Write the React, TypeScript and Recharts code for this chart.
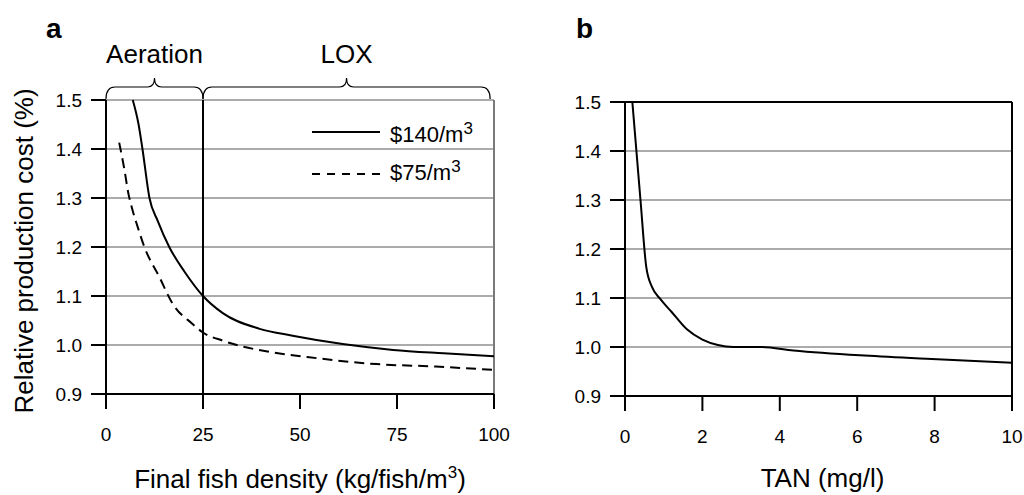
import React from "react";
import {
  LineChart,
  Line,
  XAxis,
  YAxis,
  CartesianGrid,
  ReferenceLine,
  ReferenceArea,
  Legend,
} from "recharts";

const FONT = '"Liberation Sans", Arial, Helvetica, sans-serif';

// panel a: cost vs final fish density, two oxygen prices
const densityHigh = [6.9, 8.4, 9.4, 11.2, 13.3, 16.3, 20.2, 25, 30.1, 39.6, 48.1, 61, 74, 87, 100];
const costHigh = [1.5, 1.45, 1.4, 1.3, 1.254, 1.2, 1.15, 1.1, 1.065, 1.033, 1.019, 1.002, 0.99, 0.983, 0.977];

const densityLow = [3.4, 4.7, 5.8, 6.4, 8.2, 9.9, 13.8, 17.2, 22.3, 24.9, 30, 35.2, 43, 52.4, 69.7, 85, 100];
const costLow = [1.413, 1.36, 1.308, 1.288, 1.24, 1.2, 1.138, 1.084, 1.043, 1.026, 1.009, 0.997, 0.985, 0.975, 0.961, 0.956, 0.949];

// panel b: cost vs TAN
const tanValues = [0.19, 0.4, 0.55, 0.7, 0.91, 1.2, 1.6, 2.0, 2.4, 2.8, 3.49, 4.35, 6.07, 7.79, 10];
const tanCost = [1.5, 1.3, 1.163, 1.122, 1.098, 1.072, 1.036, 1.015, 1.004, 1.0, 1.0, 0.993, 0.983, 0.976, 0.968];

const densityTicks = [0, 25, 50, 75, 100];
const tanTicks = [0, 2, 4, 6, 8, 10];
const costTicks = [0.9, 1.0, 1.1, 1.2, 1.3, 1.4, 1.5];

const highData = densityHigh.map((d, i) => ({ density: d, cost: costHigh[i] }));
const lowData = densityLow.map((d, i) => ({ density: d, cost: costLow[i] }));
const tanData = tanValues.map((t, i) => ({ tan: t, cost: tanCost[i] }));

const GRID = "#ababab";
const TICK_LEN = 15;
const TICK_GAP = 19;
const Y_GAP = 9;

// tick mark + label drawn together
const XTick = (props: any) => {
  const { x, y, payload } = props;
  const axisY = y - TICK_LEN - TICK_GAP;
  return (
    <g>
      <line x1={x} x2={x} y1={axisY} y2={axisY + TICK_LEN} stroke="#000" strokeWidth={2} />
      <text x={x} y={y + 13} textAnchor="middle" fontSize={19} fill="#000">
        {payload.value}
      </text>
    </g>
  );
};

const YTick = (props: any) => {
  const { x, y, payload } = props;
  const axisX = x + TICK_LEN + Y_GAP;
  return (
    <g>
      <line x1={axisX - TICK_LEN} x2={axisX} y1={y} y2={y} stroke="#000" strokeWidth={2} />
      <text x={x} y={y + 7} textAnchor="end" fontSize={19} fill="#000">
        {Number(payload.value).toFixed(1)}
      </text>
    </g>
  );
};

const Brace = (props: any) => {
  const { x, y, width } = props;
  const y0 = y - 1;
  const yh = y - 13;
  const peak = y - 22;
  const mid = x + width / 2;
  const d = `M${x},${y0} Q${x},${yh} ${x + 9},${yh} L${mid - 7},${yh} Q${mid},${yh} ${mid},${peak} Q${mid},${yh} ${mid + 7},${yh} L${x + width - 9},${yh} Q${x + width},${yh} ${x + width},${y0}`;
  return <path d={d} fill="none" stroke="#000" strokeWidth={1.2} />;
};

const yTitle = (props: any) => {
  const { viewBox } = props;
  const x = viewBox.x + 33;
  const y = viewBox.y + viewBox.height / 2 + 4;
  return (
    <text x={x} y={y} transform={`rotate(-90, ${x}, ${y})`} textAnchor="middle" fontSize={26} fill="#000">
      Relative production cost (%)
    </text>
  );
};

const densityTitle = (props: any) => {
  const { viewBox } = props;
  return (
    <text x={viewBox.x + viewBox.width / 2} y={viewBox.y + 94} textAnchor="middle" fontSize={26} fill="#000">
      <tspan>Final fish density (kg/fish/m</tspan>
      <tspan dy={-10} fontSize={17}>3</tspan>
      <tspan dy={10}>)</tspan>
    </text>
  );
};

const tanTitle = (props: any) => {
  const { viewBox } = props;
  return (
    <text x={viewBox.x + viewBox.width / 2 + 4} y={viewBox.y + 91} textAnchor="middle" fontSize={26} fill="#000">
      TAN (mg/l)
    </text>
  );
};

const renderLegend = () => (
  <svg width={200} height={80} style={{ display: "block" }}>
    <line x1={12} x2={80} y1={22} y2={22} stroke="#000" strokeWidth={2} />
    <text x={90} y={32} fontSize={22} fill="#000">
      <tspan>$140/m</tspan>
      <tspan dy={-8} fontSize={17}>3</tspan>
    </text>
    <line x1={12} x2={80} y1={64} y2={64} stroke="#000" strokeWidth={2} strokeDasharray="8 7" />
    <text x={90} y={70} fontSize={22} fill="#000">
      <tspan>$75/m</tspan>
      <tspan dy={-8} fontSize={17}>3</tspan>
    </text>
  </svg>
);

export default function App() {
  return (
    <div style={{ position: "absolute", left: 0, top: 0, width: 1024, height: 495, background: "#fff", fontFamily: FONT }}>
      <div style={{ position: "absolute", left: 0, top: 0 }}>
        <LineChart width={520} height={495} margin={{ top: 100, right: 26, bottom: 0, left: 0 }}>
          <CartesianGrid horizontal vertical={false} stroke={GRID} strokeWidth={2} />
          <XAxis
            type="number"
            dataKey="density"
            domain={[0, 100]}
            ticks={densityTicks}
            height={101}
            tickSize={TICK_LEN}
            tickMargin={TICK_GAP}
            tick={XTick}
            tickLine={false}
            axisLine={false}
            label={{ content: densityTitle }}
          />
          <YAxis
            type="number"
            domain={[0.9, 1.5]}
            ticks={costTicks}
            width={106}
            tickSize={TICK_LEN}
            tickMargin={Y_GAP}
            tick={YTick}
            tickLine={false}
            axisLine={false}
            label={{ content: yTitle }}
          />
          <ReferenceLine x={100} stroke="#7a7a7a" strokeWidth={2} />
          <ReferenceLine x={0} stroke="#000" strokeWidth={2} />
          <ReferenceLine y={0.9} stroke="#000" strokeWidth={2} />
          <ReferenceLine x={25} stroke="#000" strokeWidth={2} />
          <ReferenceArea
            x1={0}
            x2={25}
            y1={1.45}
            y2={1.5}
            shape={Brace}
            label={{ value: "Aeration", position: "top", offset: 37, fontSize: 26, fill: "#000" }}
          />
          <ReferenceArea
            x1={25}
            x2={99}
            y1={1.45}
            y2={1.5}
            shape={Brace}
            label={{ value: "LOX", position: "top", offset: 37, fontSize: 26, fill: "#000" }}
          />
          <Line
            data={highData}
            dataKey="cost"
            type="monotone"
            stroke="#000"
            strokeWidth={2}
            dot={false}
            name="$140/m3"
            isAnimationActive={false}
          />
          <Line
            data={lowData}
            dataKey="cost"
            type="monotone"
            stroke="#000"
            strokeWidth={2}
            strokeDasharray="10 6"
            dot={false}
            name="$75/m3"
            isAnimationActive={false}
          />
          <Legend
            layout="horizontal"
            verticalAlign="middle"
            align="center"
            content={renderLegend}
            wrapperStyle={{ left: 300, top: 110, width: 200, height: 80 }}
          />
        </LineChart>
      </div>
      <div style={{ position: "absolute", left: 520, top: 0 }}>
        <LineChart width={504} height={495} margin={{ top: 102, right: 12, bottom: 0, left: 0 }}>
          <CartesianGrid horizontal vertical={false} stroke={GRID} strokeWidth={2} />
          <XAxis
            type="number"
            dataKey="tan"
            domain={[0, 10]}
            ticks={tanTicks}
            height={99}
            tickSize={TICK_LEN}
            tickMargin={TICK_GAP}
            tick={XTick}
            tickLine={false}
            axisLine={false}
            label={{ content: tanTitle }}
          />
          <YAxis
            type="number"
            domain={[0.9, 1.5]}
            ticks={costTicks}
            width={105}
            tickSize={TICK_LEN}
            tickMargin={Y_GAP}
            tick={YTick}
            tickLine={false}
            axisLine={false}
          />
          <ReferenceLine y={1.5} stroke="#000" strokeWidth={2} />
          <ReferenceLine x={10} stroke="#000" strokeWidth={2} />
          <ReferenceLine x={0} stroke="#000" strokeWidth={2} />
          <ReferenceLine y={0.9} stroke="#000" strokeWidth={2} />
          <Line
            data={tanData}
            dataKey="cost"
            type="monotone"
            stroke="#000"
            strokeWidth={2}
            dot={false}
            isAnimationActive={false}
          />
        </LineChart>
      </div>
      <svg width={1024} height={495} style={{ position: "absolute", left: 0, top: 0, pointerEvents: "none" }}>
        <text x={46} y={38} fontSize={28} fontWeight="bold" fill="#000">a</text>
        <text x={576} y={38} fontSize={28} fontWeight="bold" fill="#000">b</text>
      </svg>
    </div>
  );
}
